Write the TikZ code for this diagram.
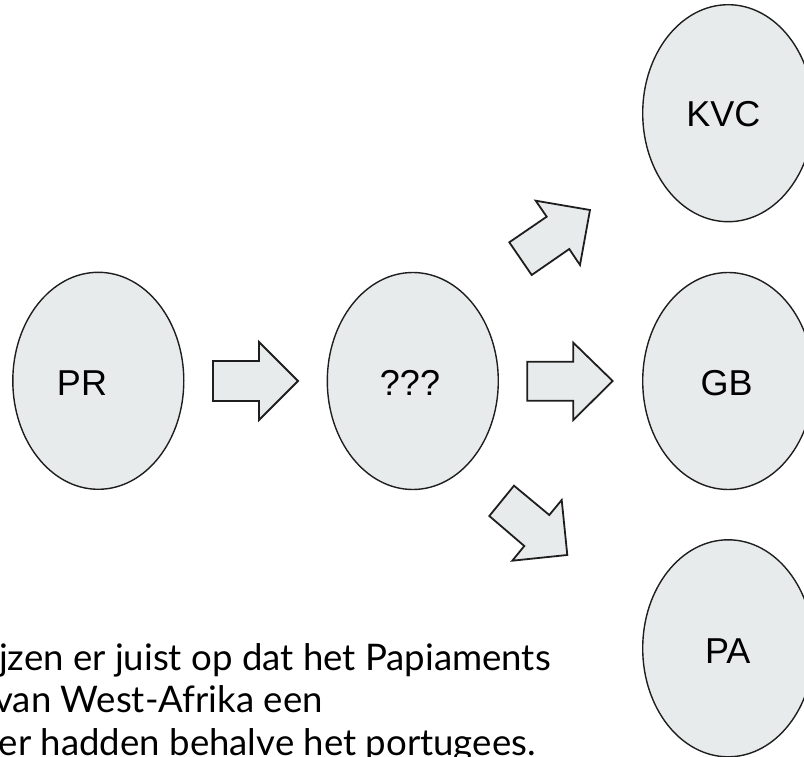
\documentclass[tikz,border=0pt]{standalone}
\usepackage{fontspec}
\setmainfont{Liberation Sans}
\newfontfamily\latofont{Lato}
\usetikzlibrary{shapes.geometric}
\definecolor{shapefill}{RGB}{232,235,236}
\definecolor{lineblack}{RGB}{30,30,30}
\begin{document}
\begin{tikzpicture}[x=1pt,y=-1pt,
  bubble/.style={draw=lineblack,line width=1.4pt,fill=shapefill,ellipse,inner sep=0pt},
  bubbletext/.style={font=\fontsize{36}{40}\selectfont,inner sep=0pt,anchor=base},
  blockarrow/.style={draw=lineblack,line width=1.8pt,fill=shapefill,line join=miter},
  bodytext/.style={font=\latofont\fontsize{36.6}{42}\selectfont,inner sep=0pt,anchor=base east}]
\useasboundingbox (0,0) rectangle (804,757);
\clip (0,0) rectangle (804,757);
% ellipses
\node[bubble,minimum width=171pt,minimum height=217pt] (pr) at (98.3,380.8) {};
\node[bubble,minimum width=171pt,minimum height=217pt] (unk) at (412.8,381) {};
\node[bubble,minimum width=171pt,minimum height=217pt] (kvc) at (728.2,113.2) {};
\node[bubble,minimum width=171pt,minimum height=217pt] (gb) at (728.2,381) {};
\node[bubble,minimum width=171pt,minimum height=217pt] (pa) at (728.2,648.3) {};
% labels
\node[bubbletext] (prl) at (82,395) {PR};
\node[bubbletext] (unkl) at (410,395) {???};
\node[bubbletext] (kvcl) at (723.3,126.7) {KVC};
\node[bubbletext] (gbl) at (726.7,395) {GB};
\node[bubbletext] (pal) at (727.8,663.3) {PA};
% block arrows
\draw[blockarrow] (213,361) -- (259,361) -- (259,342) -- (298,381) -- (259,420) -- (259,401) -- (213,401) -- cycle;
\draw[blockarrow] (527.3,361.7) -- (573.3,361.7) -- (573.3,342.7) -- (612.7,381) -- (573.3,420) -- (573.3,400.7) -- (527.3,400.7) -- cycle;
\draw[blockarrow] (509.3,242.3) -- (546.7,216.7) -- (535.7,200.7) -- (590,210) -- (580,265) -- (569.3,249) -- (531.7,275) -- cycle;
\draw[blockarrow] (489.3,516) -- (524.3,546) -- (512.3,560.7) -- (567.3,555) -- (561.7,500) -- (549.3,515) -- (514,485.7) -- cycle;
% text
\node[bodytext] (line1) at (551,670) {jzen er juist op dat het Papiaments};
\node[bodytext] (line2) at (323,712.7) {van West-Afrika een};
\node[bodytext] (line3) at (536,755) {er hadden behalve het portugees.};
\end{tikzpicture}
\end{document}
